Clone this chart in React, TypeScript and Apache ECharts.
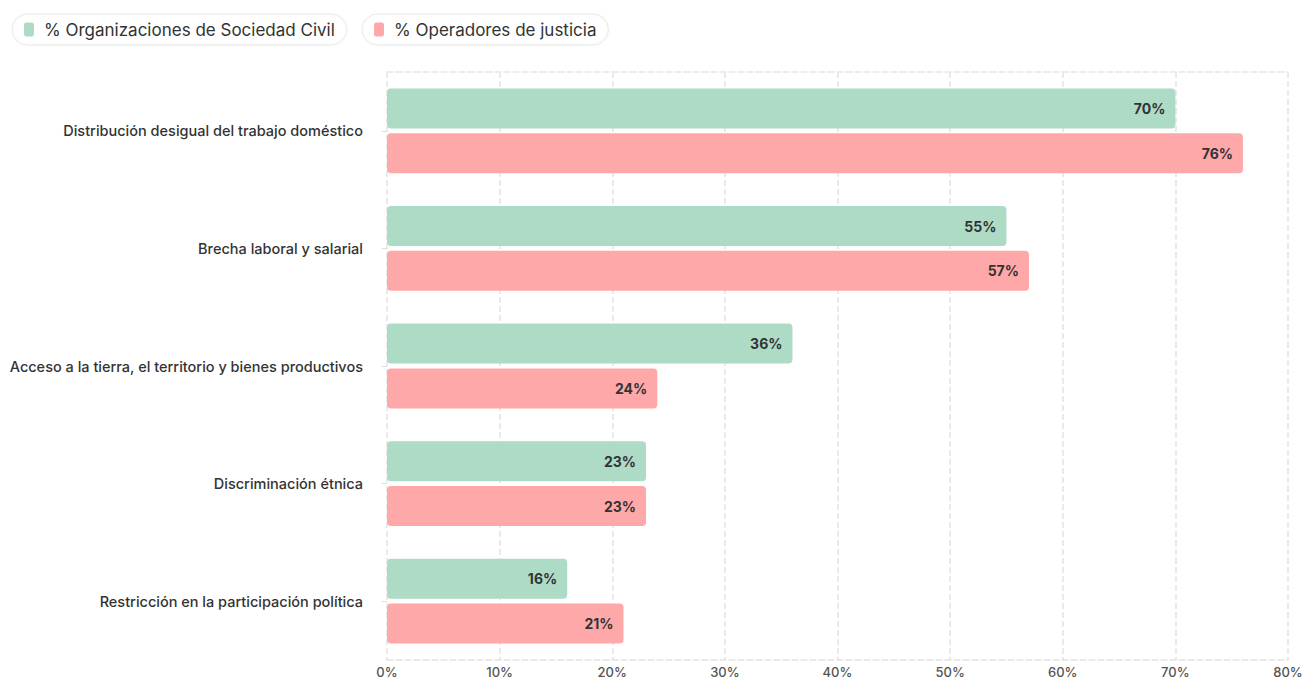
import React, { useEffect, useRef } from "react";
import * as echarts from "echarts";

const categories = [
  "Distribución desigual del trabajo doméstico",
  "Brecha laboral y salarial",
  "Acceso a la tierra, el territorio y bienes productivos",
  "Discriminación étnica",
  "Restricción en la participación política",
];
const civilValues = [70, 55, 36, 23, 16];
const justiceValues = [76, 57, 24, 23, 21];
const seriesNames = ["% Organizaciones de Sociedad Civil", "% Operadores de justicia"];
const xTicks = [0, 10, 20, 30, 40, 50, 60, 70, 80];

const GREEN = "#aedbc6";
const RED = "#ffa8a9";
const FONT = "Inter, 'Noto Sans', sans-serif";

export default function App() {
  const ref = useRef<HTMLDivElement>(null);
  useEffect(() => {
    if (!ref.current) return;
    document.body.style.overflow = "hidden";
    const chart = echarts.init(ref.current, undefined, { renderer: "svg" });
    const legendCommon = {
      top: 14,
      orient: "horizontal" as const,
      padding: [7, 12, 7, 12],
      borderColor: "#e8e8e8",
      borderWidth: 1,
      borderRadius: 17,
      itemWidth: 10,
      itemHeight: 14,
      itemGap: 10,
      icon: "roundRect",
      textStyle: { fontFamily: FONT, fontSize: 17, color: "#333", padding: [0, 0, 0, 5] },
      shadowColor: "rgba(0,0,0,0.06)",
      shadowBlur: 3,
    };
    const label = {
      show: true,
      position: "insideRight" as const,
      distance: 10,
      formatter: (p: any) => p.value + "%",
      fontFamily: FONT,
      fontSize: 14,
      fontWeight: "bold" as const,
      color: "#333",
    };
    chart.setOption({
      animation: false,
      textStyle: { fontFamily: FONT },
      legend: [
        { ...legendCommon, left: 12, data: [seriesNames[0]] },
        { ...legendCommon, left: 362, data: [seriesNames[1]] },
      ],
      grid: { left: 387, right: 18, top: 72, bottom: 26, containLabel: false },
      xAxis: [
        {
          type: "value",
          min: 0,
          max: 80,
          interval: 10,
          axisLine: { show: true, lineStyle: { color: "#e4e4e4", type: "dashed", width: 1.5 } },
          axisTick: { show: false },
          axisLabel: {
            formatter: (v: number) => (xTicks.includes(v) ? v + "%" : ""),
            fontFamily: FONT,
            fontSize: 13,
            fontWeight: 500,
            color: "#555",
            margin: 5,
          },
          splitLine: { show: true, lineStyle: { color: "#e4e4e4", type: "dashed", width: 1.5 } },
        },
        {
          type: "value",
          position: "top",
          min: 0,
          max: 80,
          interval: 10,
          axisLine: { show: true, lineStyle: { color: "#e8e8e8", type: "dashed", width: 1.5 } },
          axisTick: { show: false },
          axisLabel: { show: false },
          splitLine: { show: false },
        },
      ],
      yAxis: {
        type: "category",
        inverse: true,
        data: categories,
        axisLine: { show: false },
        axisTick: { show: true, alignWithLabel: true, length: 5, lineStyle: { color: "#ddd" } },
        axisLabel: { fontFamily: FONT, fontSize: 14.5, fontWeight: 500, color: "#333", margin: 24 },
      },
      series: [
        {
          name: seriesNames[0],
          type: "bar",
          data: civilValues,
          barWidth: 40,
          barGap: "12%",
          itemStyle: { color: GREEN, borderRadius: 4 },
          label,
        },
        {
          name: seriesNames[1],
          type: "bar",
          data: justiceValues,
          barWidth: 40,
          barGap: "12%",
          itemStyle: { color: RED, borderRadius: 4 },
          label,
        },
      ],
    });
    return () => chart.dispose();
  }, []);
  return (
    <div
      ref={ref}
      style={{ position: "absolute", left: 0, top: 0, width: 1306, height: 686 }}
    />
  );
}
